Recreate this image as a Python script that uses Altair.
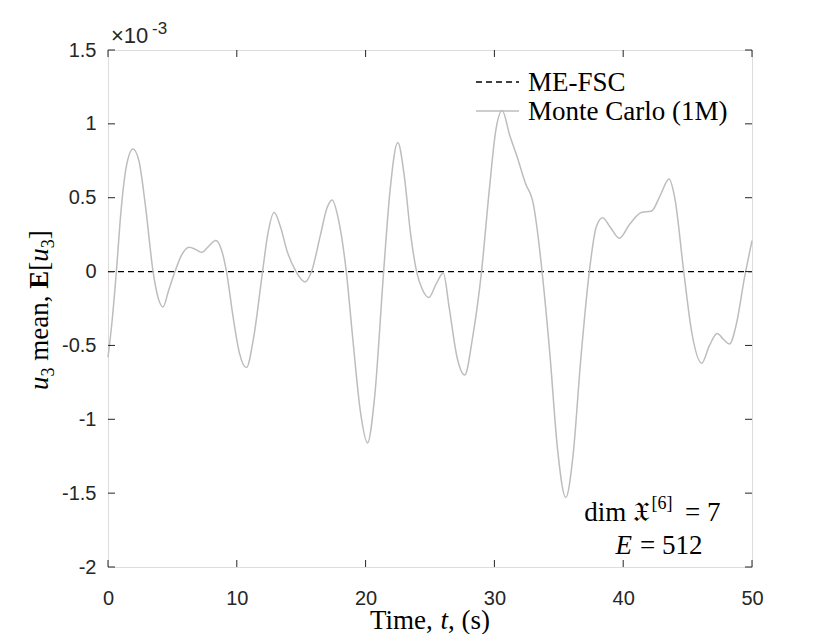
import altair as alt
import pandas as pd

# Monte Carlo (1M) mean of u3, in units of 1e-3
t_mc = [0, 0.3, 0.65, 1.0, 1.4, 1.94, 2.4, 2.9, 3.5, 3.9, 4.27, 4.7, 5.2, 5.7, 6.3, 6.8,
        7.25, 7.8, 8.37, 8.8, 9.2, 9.7, 10.2, 10.75, 11.3, 12.0, 12.4, 12.9, 13.4, 13.9,
        14.6, 15.3, 15.8, 16.5, 17.0, 17.4, 17.9, 18.5, 19.0, 19.6, 20.15, 20.7, 21.4,
        21.9, 22.5, 23.0, 23.5, 23.96, 24.4, 24.9, 25.5, 26.03, 26.5, 27.1, 27.7, 28.3,
        29.0, 29.6, 30.1, 30.6, 31.2, 31.75, 32.4, 33.04, 33.3, 33.7, 34.3, 34.9, 35.54,
        36.1, 36.7, 37.37, 37.9, 38.4, 39.0, 39.7, 40.5, 41.4, 42.2, 42.9, 43.56, 44.0,
        44.7, 45.3, 46.1, 46.7, 47.3, 47.8, 48.25, 48.8, 49.4, 50.0]
u_mc = [-0.58, -0.35, 0.0, 0.4, 0.70, 0.83, 0.75, 0.45, 0.0, -0.18, -0.24, -0.13, 0.0, 0.11,
        0.165, 0.15, 0.13, 0.17, 0.21, 0.15, 0.0, -0.30, -0.55, -0.65, -0.45, 0.0, 0.25,
        0.40, 0.30, 0.14, 0.0, -0.07, 0.0, 0.25, 0.43, 0.485, 0.35, 0.0, -0.45, -0.95,
        -1.16, -0.85, 0.0, 0.55, 0.873, 0.65, 0.25, 0.0, -0.12, -0.175, -0.08, -0.01,
        -0.25, -0.58, -0.70, -0.45, 0.0, 0.55, 0.95, 1.09, 0.92, 0.78, 0.60, 0.45, 0.30,
        0.0, -0.55, -1.20, -1.53, -1.25, -0.60, 0.0, 0.30, 0.365, 0.30, 0.226, 0.32, 0.40,
        0.41, 0.52, 0.626, 0.50, 0.0, -0.40, -0.62, -0.50, -0.42, -0.46, -0.49, -0.35,
        -0.05, 0.21]

# ME-FSC mean (zero)
t_me = [0, 50]
u_me = [0, 0]

x_ticks = [0, 10, 20, 30, 40, 50]
y_ticks = [-2, -1.5, -1, -0.5, 0, 0.5, 1, 1.5]

W, H = 644, 517
AX = "#262626"
SERIF = "Liberation Serif"
SANS = "Liberation Sans"
FS = 27

mc = pd.DataFrame({"t": t_mc, "u": u_mc})
me = pd.DataFrame({"t": t_me, "u": u_me})
xt = pd.DataFrame({"t": x_ticks})
yt = pd.DataFrame({"u": y_ticks})
one = pd.DataFrame({"a": [0]})

xs = alt.Scale(domain=[0, 50], nice=False, zero=False)
ys = alt.Scale(domain=[-2, 1.5], nice=False, zero=False)

xaxis = alt.Axis(values=x_ticks, ticks=False, domain=False, grid=False, labelFlush=False,
                 labelFont=SANS, labelFontSize=20, labelColor=AX, labelPadding=21,
                 labelExpr="toString(datum.value)", title=None)
yaxis = alt.Axis(values=y_ticks, ticks=False, domain=False, grid=False, labelFlush=False,
                 labelFont=SANS, labelFontSize=20, labelColor=AX, labelPadding=12,
                 labelExpr="toString(datum.value)", title=None)

curve = alt.Chart(mc).mark_line(color="#bdbdbd", strokeWidth=1.5, interpolate="monotone").encode(
    x=alt.X("t:Q", scale=xs, axis=xaxis),
    y=alt.Y("u:Q", scale=ys, axis=yaxis),
)
zero = alt.Chart(me).mark_line(color="black", strokeWidth=1.3, strokeDash=[6, 4]).encode(
    x=alt.X("t:Q", scale=xs), y=alt.Y("u:Q", scale=ys))

tk = dict(color=AX, strokeWidth=1)
tick_b = alt.Chart(xt).mark_rule(**tk).encode(x=alt.X("t:Q", scale=xs), y=alt.value(H), y2=alt.value(H - 7))
tick_t = alt.Chart(xt).mark_rule(**tk).encode(x=alt.X("t:Q", scale=xs), y=alt.value(0), y2=alt.value(7))
tick_l = alt.Chart(yt).mark_rule(**tk).encode(y=alt.Y("u:Q", scale=ys), x=alt.value(0), x2=alt.value(7))
tick_r = alt.Chart(yt).mark_rule(**tk).encode(y=alt.Y("u:Q", scale=ys), x=alt.value(W), x2=alt.value(W - 7))


def txt(s, x, y, size=FS, font=SERIF, style="normal", weight="normal", align="left",
        angle=0, color="black", baseline="alphabetic"):
    kw = dict(text=s, font=font, fontSize=size, fontStyle=style, fontWeight=weight,
              align=align, baseline=baseline, color=color)
    if angle:
        kw["angle"] = angle
    return alt.Chart(one).mark_text(**kw).encode(x=alt.value(x), y=alt.value(y))


texts = []
# exponent label
texts.append(txt("\u00d710", 3, -7, size=22, font=SANS, color=AX))
texts.append(txt("-3", 44, -16, size=17, font=SANS, color=AX))

# x title: Time, t, (s)
texts.append(txt("Time,", 262, 579))
texts.append(txt("t", 332.5, 579, style="italic"))
texts.append(txt(", (s)", 340, 579))

# y title: u3 mean, E[u3] (rotated)
bx, sx = -60, -54
texts.append(txt("u", bx, 340, style="italic", angle=270))
texts.append(txt("3", sx, 326.5, size=18, angle=270))
texts.append(txt("mean,", bx, 310.75, angle=270))
texts.append(txt("E", bx, 238.8, weight="bold", angle=270))
texts.append(txt("[", bx, 220.8, angle=270))
texts.append(txt("u", bx, 211.8, style="italic", angle=270))
texts.append(txt("3", sx, 198.3, size=18, angle=270))
texts.append(txt("]", bx, 189.3, angle=270))

# legend
leg1 = alt.Chart(one).mark_rule(color="black", strokeWidth=1.3, strokeDash=[6, 4]).encode(
    x=alt.value(368), x2=alt.value(411), y=alt.value(32))
leg2 = alt.Chart(one).mark_rule(color="#bdbdbd", strokeWidth=1.5).encode(
    x=alt.value(368), x2=alt.value(411), y=alt.value(61))
texts.append(txt("ME-FSC", 420, 41))
texts.append(txt("Monte Carlo (1M)", 420, 70))

# annotation
texts.append(txt("dim \U0001D51B", 542, 471, align="right"))
texts.append(txt("[6]", 543.5, 459, size=18))
texts.append(txt("= 7", 577, 471))
texts.append(txt("E", 524, 504, style="italic", align="right"))
texts.append(txt("= 512", 532, 504))

chart = alt.layer(zero, curve, tick_b, tick_t, tick_l, tick_r, leg1, leg2, *texts).properties(
    width=W, height=H,
    autosize=alt.AutoSizeParams(type="none"),
    padding={"left": 100, "top": 42, "right": 40, "bottom": 67},
).configure_view(stroke=AX, strokeWidth=1).configure(background="white")

chart.save("out.html", embed_options={"renderer": "svg", "actions": False})
